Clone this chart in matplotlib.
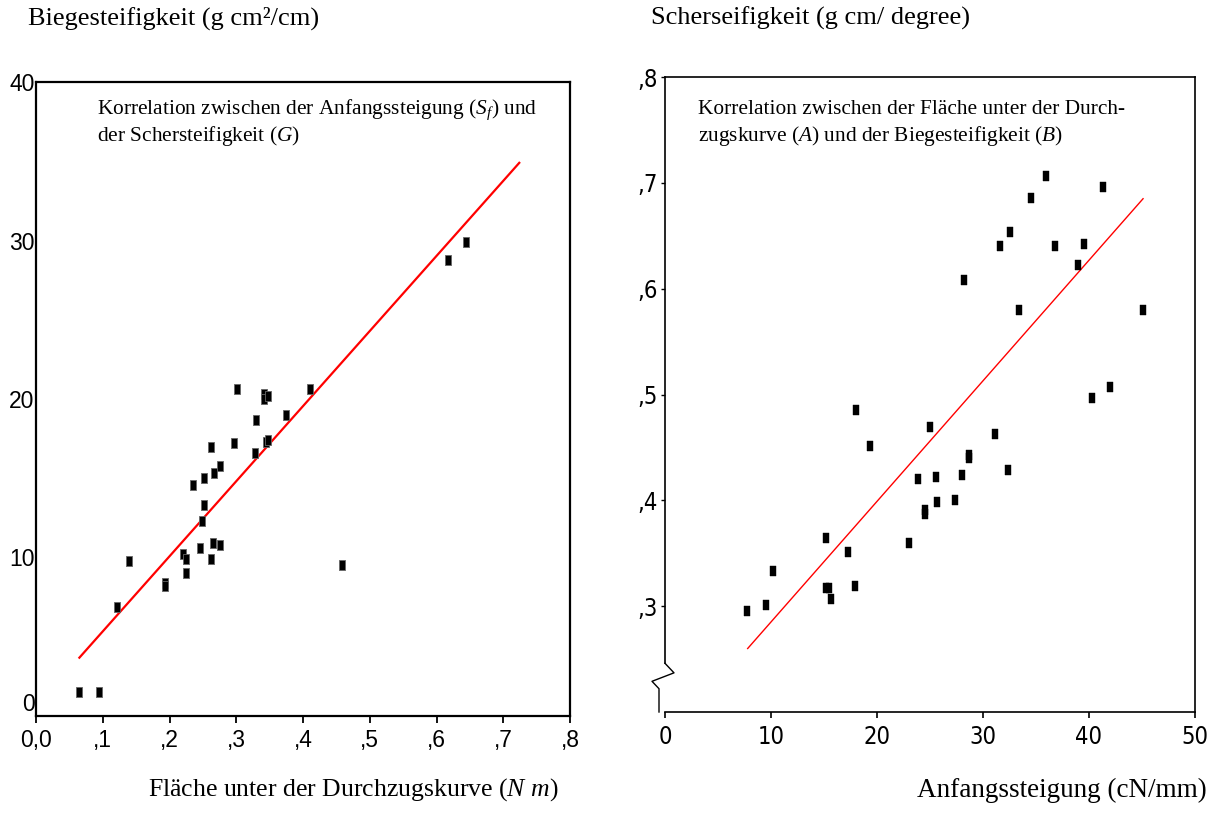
import numpy as np
import matplotlib
matplotlib.use('Agg')
import matplotlib.pyplot as plt
from matplotlib import font_manager
from matplotlib.ticker import FixedLocator, FixedFormatter

# Schrift: Times-artig fuer Texte, Arial-artig fuer Achsen links
plt.rcParams['font.family'] = ['Liberation Serif', 'DejaVu Serif']
plt.rcParams['mathtext.fontset'] = 'custom'
plt.rcParams['mathtext.rm'] = 'Liberation Serif'
plt.rcParams['mathtext.it'] = 'Liberation Serif:italic'

# schmale Schrift fuer die Achsen rechts (falls vorhanden)
namen = {f.name for f in font_manager.fontManager.ttflist}
if 'Liberation Sans Narrow' in namen:
    schmal = dict(family='Liberation Sans Narrow', size=19)
else:
    schmal = dict(family='DejaVu Sans', stretch='condensed', size=17)

# ---------------------------------------------------------------
# Daten links: Flaeche unter der Durchzugskurve (N m) vs. Biegesteifigkeit
# ---------------------------------------------------------------
flaeche = [0.065, 0.094, 0.121, 0.139, 0.194, 0.194, 0.220, 0.224, 0.224,
           0.245, 0.262, 0.265, 0.275, 0.301, 0.341, 0.341, 0.348, 0.411,
           0.330, 0.375, 0.262, 0.296, 0.344, 0.348, 0.328, 0.276, 0.267,
           0.251, 0.235, 0.251, 0.249, 0.458, 0.617, 0.644]
biege = [1.5, 1.5, 6.9, 9.8, 8.4, 8.2, 10.2, 9.9, 9.0,
         10.6, 9.9, 10.9, 10.8, 20.6, 20.3, 20.0, 20.2, 20.6,
         18.7, 19.0, 17.0, 17.2, 17.3, 17.4, 16.6, 15.8, 15.3,
         15.0, 14.6, 13.3, 12.3, 9.5, 28.8, 29.9]
fit_links_x = [0.065, 0.724]      # Regressionsgerade, Endpunkte
fit_links_y = [3.68, 34.9]

# ---------------------------------------------------------------
# Daten rechts: Anfangssteigung (cN/mm) vs. Schersteifigkeit
# ---------------------------------------------------------------
anfang = [35.9, 41.3, 34.5, 32.5, 31.6, 36.8, 39.5, 39.0, 28.2, 33.4,
          45.1, 42.0, 40.3, 31.1, 28.7, 28.7, 28.0, 32.4, 27.4, 18.0,
          19.3, 25.0, 23.9, 25.6, 25.7, 24.5, 24.5, 23.0, 15.2, 17.3,
          10.2, 15.2, 15.5, 17.9, 15.7, 9.5, 7.7]
scher = [0.706, 0.696, 0.686, 0.654, 0.640, 0.640, 0.642, 0.622, 0.608, 0.580,
         0.580, 0.507, 0.497, 0.463, 0.440, 0.443, 0.424, 0.429, 0.400, 0.485,
         0.451, 0.469, 0.420, 0.422, 0.398, 0.391, 0.387, 0.360, 0.364, 0.351,
         0.333, 0.317, 0.317, 0.319, 0.307, 0.301, 0.295]
fit_rechts_x = [7.8, 45.1]
fit_rechts_y = [0.260, 0.685]

x_ticks_l = [0, 0.1, 0.2, 0.3, 0.4, 0.5, 0.6, 0.7, 0.8]
x_labels_l = ['0,0', ',1', ',2', ',3', ',4', ',5', ',6', ',7', ',8']
y_ticks_l = [0, 10, 20, 30, 40]
x_ticks_r = [0, 10, 20, 30, 40, 50]
y_ticks_r = [0.3, 0.4, 0.5, 0.6, 0.7, 0.8]
y_labels_r = [',3', ',4', ',5', ',6', ',7', ',8']

W, H = 1219, 827
fig = plt.figure(figsize=(W/100, H/100), dpi=100)

def px(x, y):   # Pixelkoordinaten -> Figurenkoordinaten
    return x/W, 1 - y/H

# Rechteckiger Marker (hoeher als breit)
rect = [(-0.33, -0.5), (0.33, -0.5), (0.33, 0.5), (-0.33, 0.5), (-0.33, -0.5)]

# ------------------------- linke Grafik -------------------------
ax1 = fig.add_axes([36/W, 1 - 716/H, 534/W, 634/H])
ax1.plot(fit_links_x, fit_links_y, color='red', lw=1.6, zorder=2)
ax1.plot(flaeche, biege, ls='none', marker=rect, ms=7.5, mfc='black',
         mec='#666666', mew=0.6, zorder=3)
ax1.set_xlim(0, 0.8)
ax1.set_ylim(0, 40)
ax1.xaxis.set_major_locator(FixedLocator(x_ticks_l))
ax1.xaxis.set_major_formatter(FixedFormatter(x_labels_l))
ax1.set_yticks(y_ticks_l)
ax1.tick_params(axis='x', direction='out', length=5, width=1.3, pad=4)
ax1.tick_params(axis='y', length=0, pad=1)
for lab in ax1.get_xticklabels() + ax1.get_yticklabels():
    lab.set_fontfamily(['Liberation Sans', 'DejaVu Sans'])
    lab.set_fontsize(16.5)
ax1.get_yticklabels()[0].set_va('bottom')   # die 0 sitzt etwas hoeher
for s in ax1.spines.values():
    s.set_linewidth(1.6)

# ------------------------- rechte Grafik ------------------------
ax2 = fig.add_axes([665/W, 1 - 712/H, 530/W, 635/H])
ax2.plot(fit_rechts_x, fit_rechts_y, color='red', lw=1.0, zorder=2)
ax2.plot(anfang, scher, ls='none', marker=rect, ms=7, mfc='black',
         mec='black', mew=0.3, zorder=3)
ax2.set_xlim(0, 50)
ax2.set_ylim(0.2, 0.8)
ax2.set_xticks(x_ticks_r)
ax2.yaxis.set_major_locator(FixedLocator(y_ticks_r))
ax2.yaxis.set_major_formatter(FixedFormatter(y_labels_r))
ax2.tick_params(axis='x', direction='out', length=4, width=1.2, pad=5)
ax2.tick_params(axis='y', direction='out', length=3, width=1.0, pad=2)
for lab in ax2.get_xticklabels() + ax2.get_yticklabels():
    lab.set_fontfamily(schmal['family'])
    lab.set_fontsize(schmal['size'])
    if 'stretch' in schmal:
        lab.set_fontstretch(schmal['stretch'])
for s in ax2.spines.values():
    s.set_linewidth(1.2)
ax2.spines['left'].set_visible(False)

# y-Achse mit Unterbrechung (Zickzack) unten
trans = ax2.get_yaxis_transform()
ax2.plot([0, 0], [0.8, 0.246], color='black', lw=1.2, transform=trans, clip_on=False)
brk_x = np.array([0, 9, -13, -6, -6]) / 530
brk_y = [0.246, 0.237, 0.229, 0.222, 0.2]
ax2.plot(brk_x, brk_y, color='black', lw=1.0, transform=trans, clip_on=False)

# Beschriftungen in den Grafiken
fig.text(*px(97, 110), r'Korrelation zwischen der Anfangssteigung ($S_f$) und',
         fontsize=15.4, va='center', ha='left')
fig.text(*px(97, 136), r'der Schersteifigkeit ($G$)', fontsize=15.4, va='center', ha='left')
fig.text(*px(698, 110), 'Korrelation zwischen der Fläche unter der Durch-',
         fontsize=15.4, va='center', ha='left')
fig.text(*px(698, 136), r'zugskurve ($A$) und der Biegesteifigkeit ($B$)',
         fontsize=15.4, va='center', ha='left')

# Achsentitel
fig.text(*px(28, 18), 'Biegesteifigkeit (g cm²/cm)', fontsize=19, va='center', ha='left')
fig.text(*px(651, 18), 'Scherseifigkeit (g cm/ degree)', fontsize=19, va='center', ha='left')
fig.text(*px(353, 790), r'Fläche unter der Durchzugskurve ($N$ $m$)', fontsize=18.5,
         va='center', ha='center')
fig.text(*px(1207, 790), 'Anfangssteigung (cN/mm)', fontsize=19.5, va='center', ha='right')

fig.savefig('out.png', dpi=100)
